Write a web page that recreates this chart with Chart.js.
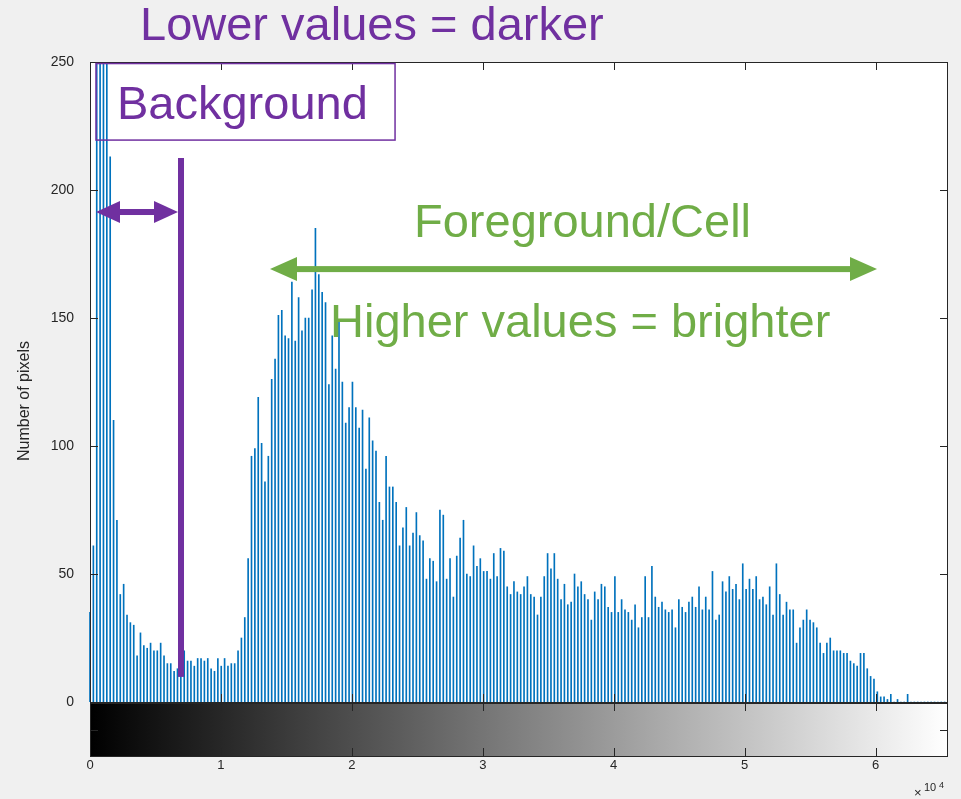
<!DOCTYPE html>
<html>
<head>
<meta charset="utf-8">
<title>Intensity histogram</title>
<script src="https://cdn.jsdelivr.net/npm/chart.js@4.4.0/dist/chart.umd.min.js"></script>
<style>
    html, body {
        margin: 0;
        padding: 0;
        background: #f0f0f0;
    }
</style>
</head>
<body>
<canvas id="hist" width="961" height="799"></canvas>
<script>
// 256-bin histogram of a 16-bit image, one count per bin (bins are 257 grey levels wide)
const BIN_STEP = 257;
const counts = [
    35, 61, 1850, 1400, 760, 330, 213, 110, 71, 42, 46, 34, 31, 30, 18, 27,
    22, 21, 23, 20, 20, 23, 18, 15, 15, 12, 13, 11, 20, 16, 16, 14,
    17, 17, 16, 17, 13, 12, 17, 14, 17, 14, 15, 15, 20, 25, 33, 56,
    96, 99, 119, 101, 86, 96, 126, 134, 151, 153, 143, 142, 164, 141, 158, 145,
    150, 150, 161, 185, 167, 160, 156, 124, 143, 130, 149, 125, 109, 115, 125, 115,
    107, 114, 91, 111, 102, 98, 78, 71, 96, 84, 84, 78, 61, 68, 76, 61,
    66, 74, 65, 63, 48, 56, 55, 47, 75, 73, 48, 56, 41, 57, 64, 71,
    50, 49, 61, 53, 56, 51, 51, 48, 58, 49, 60, 59, 45, 42, 47, 43,
    42, 45, 49, 42, 41, 34, 41, 49, 58, 52, 58, 48, 40, 46, 38, 39,
    50, 45, 47, 42, 40, 32, 43, 40, 46, 45, 37, 35, 49, 35, 40, 36,
    35, 32, 38, 29, 33, 49, 33, 53, 41, 37, 39, 36, 35, 36, 29, 40,
    37, 35, 39, 41, 37, 45, 36, 41, 36, 51, 32, 34, 47, 43, 49, 44,
    46, 40, 54, 44, 48, 44, 49, 40, 41, 38, 45, 34, 54, 42, 34, 39,
    36, 36, 23, 29, 32, 36, 32, 31, 29, 23, 19, 23, 25, 20, 20, 20,
    19, 19, 16, 15, 14, 19, 19, 13, 10, 9, 4, 2, 2, 1, 3, 0,
    1, 0, 0, 3, 0, 0, 0, 0, 0, 0, 0, 0, 0, 0, 0, 0
];
const xTickValues = [0, 10000, 20000, 30000, 40000, 50000, 60000];
const xTickLabels = ['0', '1', '2', '3', '4', '5', '6'];
const yTickValues = [0, 50, 100, 150, 200, 250];

const FONT = "'Liberation Sans', Arial, Helvetica, sans-serif";
const AXIS_COLOR = '#262626';
const PURPLE = '#7030A0';
const GREEN = '#70AD47';

const points = counts.map((c, i) => ({x: i * BIN_STEP, y: c}));

function doubleArrow(ctx, x1, x2, y, color, shaft, headLen, headHalf) {
    ctx.fillStyle = color;
    ctx.fillRect(x1 + headLen - 1, y - shaft / 2, x2 - x1 - 2 * headLen + 2, shaft);
    ctx.beginPath();
    ctx.moveTo(x1, y);
    ctx.lineTo(x1 + headLen, y - headHalf);
    ctx.lineTo(x1 + headLen, y + headHalf);
    ctx.closePath();
    ctx.fill();
    ctx.beginPath();
    ctx.moveTo(x2, y);
    ctx.lineTo(x2 - headLen, y - headHalf);
    ctx.lineTo(x2 - headLen, y + headHalf);
    ctx.closePath();
    ctx.fill();
}

// axes box, inward ticks, grey colorbar and the text/arrow callouts
const histFrame = {
    id: 'histFrame',
    beforeDraw(chart) {
        const {ctx, chartArea: a} = chart;
        ctx.save();
        ctx.fillStyle = '#f0f0f0';
        ctx.fillRect(0, 0, chart.width, chart.height);
        ctx.fillStyle = '#ffffff';
        ctx.fillRect(a.left, a.top, a.right - a.left, a.bottom - a.top);
        ctx.restore();
    },
    afterDraw(chart) {
        const {ctx, chartArea: a} = chart;
        const X = v => chart.scales.x.getPixelForValue(v);
        const Y = v => chart.scales.y.getPixelForValue(v);
        const tick = 8;

        ctx.save();
        ctx.lineWidth = 1;
        ctx.strokeStyle = AXIS_COLOR;

        // histogram axes box + ticks on all four sides
        ctx.strokeRect(a.left + 0.5, a.top + 0.5, a.right - a.left - 1, a.bottom - a.top);
        ctx.beginPath();
        yTickValues.forEach(v => {
            const y = Math.round(Y(v)) + 0.5;
            ctx.moveTo(a.left, y); ctx.lineTo(a.left + tick, y);
            ctx.moveTo(a.right, y); ctx.lineTo(a.right - tick, y);
        });
        xTickValues.forEach(v => {
            const x = Math.round(X(v)) + 0.5;
            ctx.moveTo(x, a.top); ctx.lineTo(x, a.top + tick);
            ctx.moveTo(x, a.bottom); ctx.lineTo(x, a.bottom - tick);
        });
        ctx.stroke();

        // colorbar under the axes
        const cbTop = a.bottom + 1;
        const cbH = 53;
        const grad = ctx.createLinearGradient(a.left, 0, a.right, 0);
        grad.addColorStop(0, '#000000');
        grad.addColorStop(1, '#ffffff');
        ctx.fillStyle = grad;
        ctx.fillRect(a.left, cbTop, a.right - a.left, cbH);
        ctx.strokeRect(a.left + 0.5, cbTop + 0.5, a.right - a.left - 1, cbH);
        ctx.beginPath();
        xTickValues.forEach(v => {
            const x = Math.round(X(v)) + 0.5;
            ctx.moveTo(x, cbTop); ctx.lineTo(x, cbTop + tick);
            ctx.moveTo(x, cbTop + cbH); ctx.lineTo(x, cbTop + cbH - tick);
        });
        const mid = Math.round(cbTop + cbH / 2) + 0.5;
        ctx.moveTo(a.left, mid); ctx.lineTo(a.left + tick, mid);
        ctx.moveTo(a.right, mid); ctx.lineTo(a.right - tick, mid);
        ctx.stroke();

        // exponent label of the x axis
        ctx.fillStyle = AXIS_COLOR;
        ctx.textBaseline = 'alphabetic';
        ctx.textAlign = 'left';
        ctx.font = '13px ' + FONT;
        ctx.fillText('\u00d7', a.right - 34, a.bottom + 95);
        ctx.font = '11px ' + FONT;
        ctx.fillText('10', a.right - 24, a.bottom + 89);
        ctx.font = '9px ' + FONT;
        ctx.fillText('4', a.right - 9, a.bottom + 86);

        // y axis title
        ctx.save();
        ctx.translate(25, 401);
        ctx.rotate(-Math.PI / 2);
        ctx.textAlign = 'center';
        ctx.textBaseline = 'middle';
        ctx.font = '16px ' + FONT;
        ctx.fillText('Number of pixels', 0, 0);
        ctx.restore();

        // background callout
        ctx.strokeStyle = PURPLE;
        ctx.lineWidth = 1.5;
        ctx.strokeRect(X(458), Y(249.4), X(23300) - X(458), Y(219.5) - Y(249.4));
        ctx.fillStyle = PURPLE;
        ctx.fillRect(X(6951) - 3, Y(212.5), 6, Y(9.8) - Y(212.5));
        doubleArrow(ctx, X(458), X(6722), Y(191.4), PURPLE, 6, 24, 11);

        ctx.font = '47px ' + FONT;
        ctx.textAlign = 'left';
        ctx.textBaseline = 'alphabetic';
        ctx.fillText('Lower values = darker', X(3819), Y(258.6));
        ctx.fillText('Background', X(2062), Y(227.7));

        // foreground callout
        doubleArrow(ctx, X(13749), X(60113), Y(169.1), GREEN, 6, 27, 12);
        ctx.fillStyle = GREEN;
        ctx.fillText('Foreground/Cell', X(24748), Y(181.6));
        ctx.fillText('Higher values = brighter', X(18332), Y(142.6));
        ctx.restore();
    }
};

new Chart(document.getElementById('hist'), {
    type: 'bar',
    data: {
        datasets: [{
            data: points,
            backgroundColor: '#0072BD',
            barThickness: 1,
            clip: {left: 2, top: 0, right: 0, bottom: 0}
        }]
    },
    options: {
        responsive: false,
        animation: false,
        layout: {
            padding: {top: 62, right: 13, bottom: 0, left: 0}
        },
        plugins: {
            legend: {display: false},
            tooltip: {enabled: false}
        },
        scales: {
            x: {
                type: 'linear',
                offset: false,
                min: 0,
                max: 65535,
                grid: {display: false},
                border: {display: false},
                afterBuildTicks: scale => {
                    scale.ticks = xTickValues.map(v => ({value: v}));
                },
                afterFit: scale => {
                    scale.height = 97;
                },
                ticks: {
                    padding: 48,
                    maxRotation: 0,
                    color: AXIS_COLOR,
                    font: {family: FONT, size: 13},
                    callback: (value, index) => xTickLabels[index]
                }
            },
            y: {
                min: 0,
                max: 250,
                grid: {display: false},
                border: {display: false},
                afterBuildTicks: scale => {
                    scale.ticks = yTickValues.map(v => ({value: v}));
                },
                afterFit: scale => {
                    scale.width = 90;
                },
                ticks: {
                    padding: 8,
                    color: AXIS_COLOR,
                    font: {family: FONT, size: 14}
                }
            }
        }
    },
    plugins: [histFrame]
});
</script>
</body>
</html>
